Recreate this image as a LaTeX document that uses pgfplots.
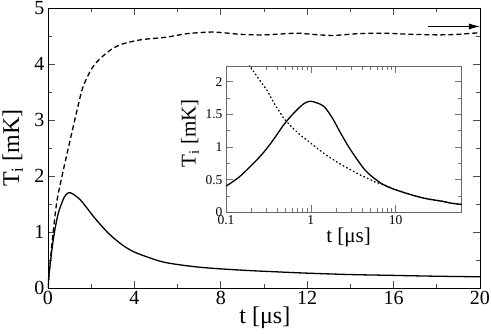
\documentclass[border=0pt]{standalone}
\usepackage{fontspec}
\setmainfont{Liberation Serif}
\usepackage{pgfplots}
\pgfplotsset{compat=1.18}
\usetikzlibrary{arrows.meta}

\pgfplotstableread{
t T
0 0
0.05 0.25
0.1 0.42
0.2 0.74
0.3 1.0
0.48 1.34
0.75 1.62
0.95 1.70
1.15 1.68
1.48 1.58
1.8 1.43
2.1 1.28
2.5 1.1
2.87 0.95
3.4 0.78
3.95 0.65
4.7 0.54
5.5 0.45
7.04 0.37
8.9 0.32
10.5 0.29
12 0.265
14 0.24
16 0.225
18 0.21
20 0.2
}\solidmain

\pgfplotstableread{
t T
0 0
0.05 0.25
0.1 0.45
0.2 0.85
0.4 1.52
0.65 2.0
1.0 2.6
1.33 3.15
1.63 3.6
2.1 3.96
2.72 4.2
3.32 4.34
4.26 4.43
5.5 4.48
6.4 4.54
7.65 4.57
8.9 4.53
10 4.52
11.5 4.55
12.2 4.53
13.2 4.51
14.3 4.54
15.5 4.55
16.8 4.53
18.1 4.52
19 4.53
20 4.56
}\dashedmain

\pgfplotstableread{
t T
0.1 0.40
0.14 0.53
0.193 0.70
0.25 0.85
0.304 0.98
0.38 1.15
0.479 1.34
0.6 1.49
0.755 1.62
0.87 1.68
0.99 1.70
1.15 1.68
1.43 1.62
1.8 1.44
2.25 1.21
2.8 1.0
3.55 0.80
4.4 0.64
5.58 0.52
7 0.43
8.8 0.37
12 0.31
18.2 0.24
25 0.2
35 0.17
45 0.14
60 0.12
}\solidinset

\pgfplotstableread{
t T
0.18 2.32
0.193 2.23
0.25 2.02
0.304 1.87
0.38 1.64
0.479 1.44
0.6 1.3
0.755 1.18
0.95 1.08
1.19 0.98
1.5 0.88
1.87 0.80
2.35 0.72
2.95 0.65
3.7 0.58
4.68 0.52
5.8 0.46
7.35 0.42
9 0.37
12 0.31
18.2 0.24
25 0.2
35 0.17
45 0.14
60 0.12
}\dottedinset

\begin{document}
\begin{tikzpicture}
\useasboundingbox (0,0) rectangle (491pt,334pt);
% main axis
\begin{axis}[
  scale only axis, width=432pt, height=280pt,
  at={(48pt,46pt)}, anchor=south west,
  xmin=0, xmax=20, ymin=0, ymax=5,
  xtick={0,4,...,20}, ytick={0,1,...,5},
  minor x tick num=1, minor y tick num=1,
  tick align=inside, major tick length=7pt, minor tick length=4pt,
  /pgf/number format/assume math mode=true,
  tick label style={font=\fontsize{20}{20}\selectfont},
  label style={font=\fontsize{24}{24}\selectfont},
  xlabel={t [μs]}, ylabel={T\textsubscript{i} [mK]},
  xlabel style={at={(axis description cs:0.502,-0.106)}, anchor=center},
  ylabel style={at={(axis description cs:-0.082,0.5)}, anchor=center},
  axis line style={line width=0.8pt},
  every tick/.style={line width=0.8pt, black!70},
]
\addplot[black, line width=1.3pt, smooth] table[x=t,y=T] {\solidmain};
\addplot[black, line width=1.3pt, dash pattern=on 5pt off 3pt, smooth] table[x=t,y=T] {\dashedmain};
\draw[-{Latex[length=11pt,width=6pt]}, line width=0.8pt] (axis cs:17.6,4.67) -- (axis cs:20,4.67);
\end{axis}
% inset
\begin{axis}[
  scale only axis, width=235.7pt, height=146.3pt,
  at={(226pt,121.7pt)}, anchor=south west,
  xmode=log, xmin=0.1, xmax=60, ymin=0, ymax=2.24,
  xtick={0.1,1,10}, xticklabels={0.1,1,10},
  ytick={0,0.5,...,2}, minor y tick num=1,
  tick align=inside, major tick length=7pt, minor tick length=4pt,
  /pgf/number format/assume math mode=true,
  tick label style={font=\fontsize{13.5}{13.5}\selectfont},
  label style={font=\fontsize{21}{21}\selectfont},
  xlabel={t [μs]}, ylabel={T\textsubscript{i} [mK]},
  xlabel style={at={(axis description cs:0.52,-0.172)}, anchor=center},
  ylabel style={at={(axis description cs:-0.153,0.54)}, anchor=center},
  axis line style={black!60, line width=0.8pt},
  every tick/.style={line width=0.6pt, black!55},
  axis background/.style={fill=white},
]
\addplot[black, line width=1.3pt, smooth] table[x=t,y=T] {\solidinset};
\addplot[black, line width=1.3pt, dash pattern=on 0.9pt off 3pt, line cap=round] table[x=t,y=T] {\dottedinset};
\end{axis}
\end{tikzpicture}
\end{document}
